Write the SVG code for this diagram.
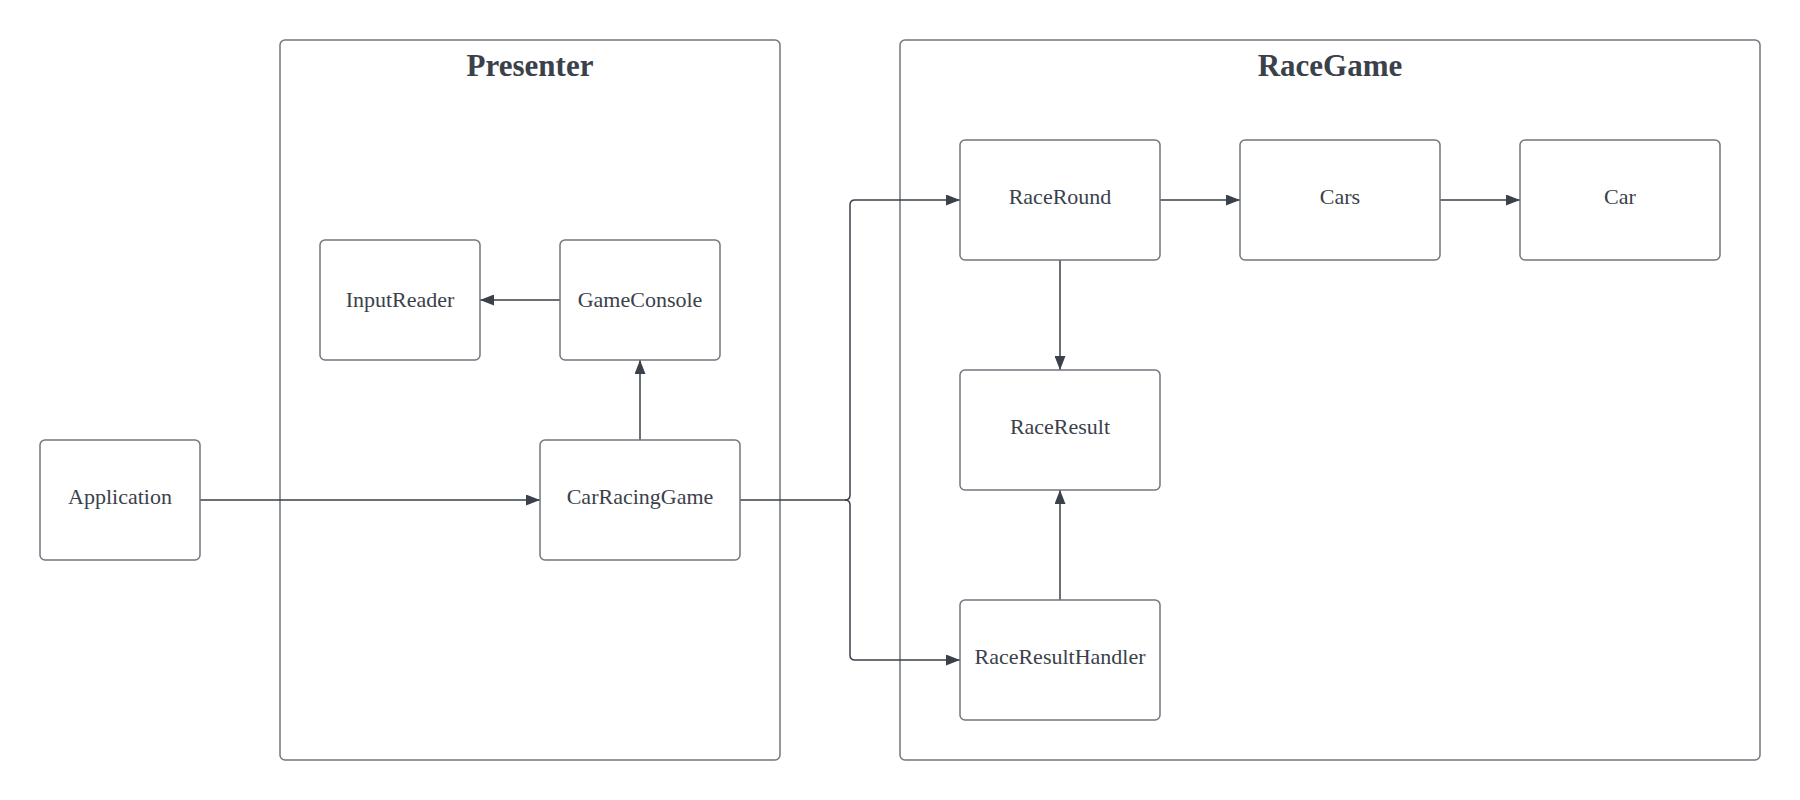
<svg xmlns="http://www.w3.org/2000/svg" width="1800" height="800" viewBox="0 0 1800 800">
<defs>
<marker id="arr" viewBox="0 0 14 11" refX="14" refY="5.5" markerWidth="14" markerHeight="11" markerUnits="userSpaceOnUse" orient="auto">
<path d="M0,0 L14,5.5 L0,11 Z" fill="#3a414a"/>
</marker>
<style>
.box{fill:#ffffff;stroke:#72767d;stroke-width:1.5}
.cont{fill:#ffffff;stroke:#72767d;stroke-width:1.5}
.lbl{font-family:"Liberation Serif",serif;font-size:22px;fill:#3a414a;text-anchor:middle}
.ttl{font-family:"Liberation Serif",serif;font-size:31px;font-weight:bold;fill:#3a414a;text-anchor:middle}
.con{fill:none;stroke:#3a414a;stroke-width:1.5}
</style>
</defs>
<rect width="1800" height="800" fill="#ffffff"/>
<g id="presenter">
<rect class="cont" x="280" y="40" width="500" height="720" rx="5"/>
<text class="ttl" x="530" y="76">Presenter</text>
</g>
<g id="racegame">
<rect class="cont" x="900" y="40" width="860" height="720" rx="5"/>
<text class="ttl" x="1330" y="76">RaceGame</text>
</g>
<g id="connectors">
<path class="con" d="M200,500 L540,500" marker-end="url(#arr)"/>
<path class="con" d="M640,440 L640,360" marker-end="url(#arr)"/>
<path class="con" d="M560,300 L480,300" marker-end="url(#arr)"/>
<path class="con" d="M740,500 L845,500 Q850,500 850,495 L850,205 Q850,200 855,200 L960,200" marker-end="url(#arr)"/>
<path class="con" d="M845,500 Q850,500 850,505 L850,655 Q850,660 855,660 L960,660" marker-end="url(#arr)"/>
<path class="con" d="M1160,200 L1240,200" marker-end="url(#arr)"/>
<path class="con" d="M1440,200 L1520,200" marker-end="url(#arr)"/>
<path class="con" d="M1060,260 L1060,370" marker-end="url(#arr)"/>
<path class="con" d="M1060,600 L1060,490" marker-end="url(#arr)"/>
</g>
<g id="application">
<rect class="box" x="40" y="440" width="160" height="120" rx="5"/>
<text class="lbl" x="120" y="504">Application</text>
</g>
<g id="carracinggame">
<rect class="box" x="540" y="440" width="200" height="120" rx="5"/>
<text class="lbl" x="640" y="504">CarRacingGame</text>
</g>
<g id="inputreader">
<rect class="box" x="320" y="240" width="160" height="120" rx="5"/>
<text class="lbl" x="400" y="307">InputReader</text>
</g>
<g id="gameconsole">
<rect class="box" x="560" y="240" width="160" height="120" rx="5"/>
<text class="lbl" x="640" y="307">GameConsole</text>
</g>
<g id="raceround">
<rect class="box" x="960" y="140" width="200" height="120" rx="5"/>
<text class="lbl" x="1060" y="204">RaceRound</text>
</g>
<g id="cars">
<rect class="box" x="1240" y="140" width="200" height="120" rx="5"/>
<text class="lbl" x="1340" y="204">Cars</text>
</g>
<g id="car">
<rect class="box" x="1520" y="140" width="200" height="120" rx="5"/>
<text class="lbl" x="1620" y="204">Car</text>
</g>
<g id="raceresult">
<rect class="box" x="960" y="370" width="200" height="120" rx="5"/>
<text class="lbl" x="1060" y="434">RaceResult</text>
</g>
<g id="raceresulthandler">
<rect class="box" x="960" y="600" width="200" height="120" rx="5"/>
<text class="lbl" x="1060" y="664">RaceResultHandler</text>
</g>
</svg>
